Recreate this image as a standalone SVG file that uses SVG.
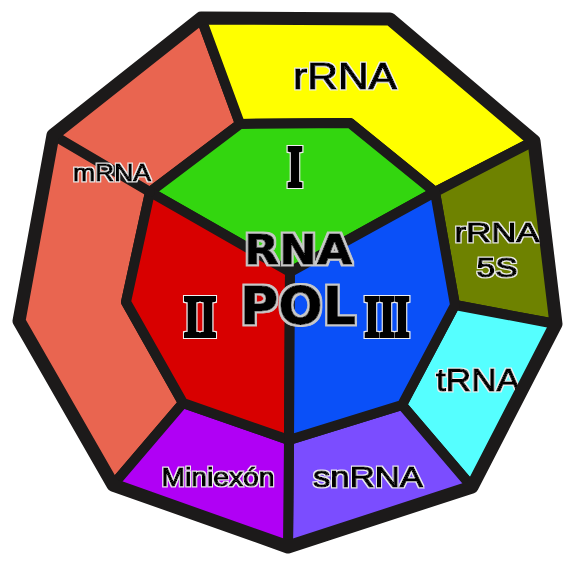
<svg xmlns="http://www.w3.org/2000/svg" width="564" height="561" viewBox="0 0 564 561">
<style>
.reg{stroke:#1c1a1a;stroke-width:10;stroke-linejoin:round}
.lbl{font-family:"Liberation Sans",Arial,sans-serif;fill:#000;stroke:#000;stroke-width:1.1;text-anchor:middle;filter:url(#halo)}
.rom{font-family:"Liberation Serif","Times New Roman",serif;font-weight:bold;fill:#000;stroke:#000;stroke-width:4;text-anchor:middle;filter:url(#halo)}
.cap{font-family:"DejaVu Sans",sans-serif;font-weight:bold;fill:#000;stroke:#000;stroke-width:0.8;text-anchor:middle;filter:url(#halo2)}
</style>
<defs>
<filter id="halo" x="-15%" y="-25%" width="130%" height="150%">
<feMorphology in="SourceAlpha" operator="dilate" radius="1.4" result="d"/>
<feFlood flood-color="#efefef"/>
<feComposite in2="d" operator="in" result="h"/>
<feMerge><feMergeNode in="h"/><feMergeNode in="SourceGraphic"/></feMerge>
</filter>
<filter id="halo2" x="-15%" y="-25%" width="130%" height="150%">
<feMorphology in="SourceAlpha" operator="dilate" radius="1.6" result="d"/>
<feFlood flood-color="#c8c8c8"/>
<feComposite in2="d" operator="in" result="h"/>
<feMerge><feMergeNode in="h"/><feMergeNode in="SourceGraphic"/></feMerge>
</filter>
</defs>
<rect width="564" height="561" fill="#fff"/>
<g id="mRNA">
<polygon class="reg" fill="#E96550" points="113,485 19,321 53,135 201,18 240,124 150,192 126,302 183,403"/>
</g>
<g id="rRNA">
<polygon class="reg" fill="#FFFF00" points="201,18 390,19 534,141 435,192 350,123 240,124"/>
<text class="lbl" x="345" y="89" font-size="36" textLength="104" lengthAdjust="spacingAndGlyphs">rRNA</text>
</g>
<g id="rRNA5S">
<polygon class="reg" fill="#6E8200" points="534,141 556,324 455,305 435,192"/>
<text class="lbl" x="497" y="242" font-size="27" textLength="85" lengthAdjust="spacingAndGlyphs">rRNA</text>
<text class="lbl" x="497" y="277" font-size="27" textLength="41" lengthAdjust="spacingAndGlyphs">5S</text>
</g>
<g id="tRNA">
<polygon class="reg" fill="#55FFFF" points="556,324 472,487 402,405 455,305"/>
<text class="lbl" x="478" y="391" font-size="32" textLength="84" lengthAdjust="spacingAndGlyphs">tRNA</text>
</g>
<g id="snRNA">
<polygon class="reg" fill="#7B4DFF" points="472,487 288,547 289,440 402,405"/>
<text class="lbl" x="368" y="487" font-size="29" textLength="110" lengthAdjust="spacingAndGlyphs">snRNA</text>
</g>
<g id="Miniexon">
<polygon class="reg" fill="#B000F5" points="288,547 113,485 183,403 289,440"/>
<text class="lbl" x="218" y="486" font-size="25" textLength="113" lengthAdjust="spacingAndGlyphs">Miniexón</text>
</g>
<g id="polI">
<polygon class="reg" fill="#33D60F" points="240,124 350,123 435,192 290,272 150,192"/>
<text class="rom" x="295" y="186" font-size="57" textLength="15" lengthAdjust="spacingAndGlyphs">I</text>
</g>
<g id="polII">
<polygon class="reg" fill="#D80000" points="150,192 290,272 289,440 183,403 126,302"/>
<text class="rom" x="200" y="336" font-size="57" textLength="32" lengthAdjust="spacingAndGlyphs">II</text>
</g>
<g id="polIII">
<polygon class="reg" fill="#0A50F8" points="435,192 455,305 402,405 289,440 290,272"/>
<text class="rom" x="387" y="336" font-size="57" textLength="45" lengthAdjust="spacingAndGlyphs">III</text>
</g>
<g id="connectors">
<line x1="150" y1="192" x2="53" y2="135" stroke="#1c1a1a" stroke-width="10" stroke-linecap="round"/>
<polygon points="201,18 390,19 534,141 556,324 472,487 288,547 113,485 19,321 53,135" fill="none" stroke="#1c1a1a" stroke-width="13" stroke-linejoin="round"/>
</g>
<g id="labels">
<text class="lbl" x="112" y="181" font-size="24" textLength="78" lengthAdjust="spacingAndGlyphs">mRNA</text>
<text class="cap" x="298" y="264" font-size="40" textLength="108" lengthAdjust="spacingAndGlyphs">RNA</text>
<text class="cap" x="298" y="324" font-size="52" textLength="116" lengthAdjust="spacingAndGlyphs">POL</text>
</g>
</svg>
